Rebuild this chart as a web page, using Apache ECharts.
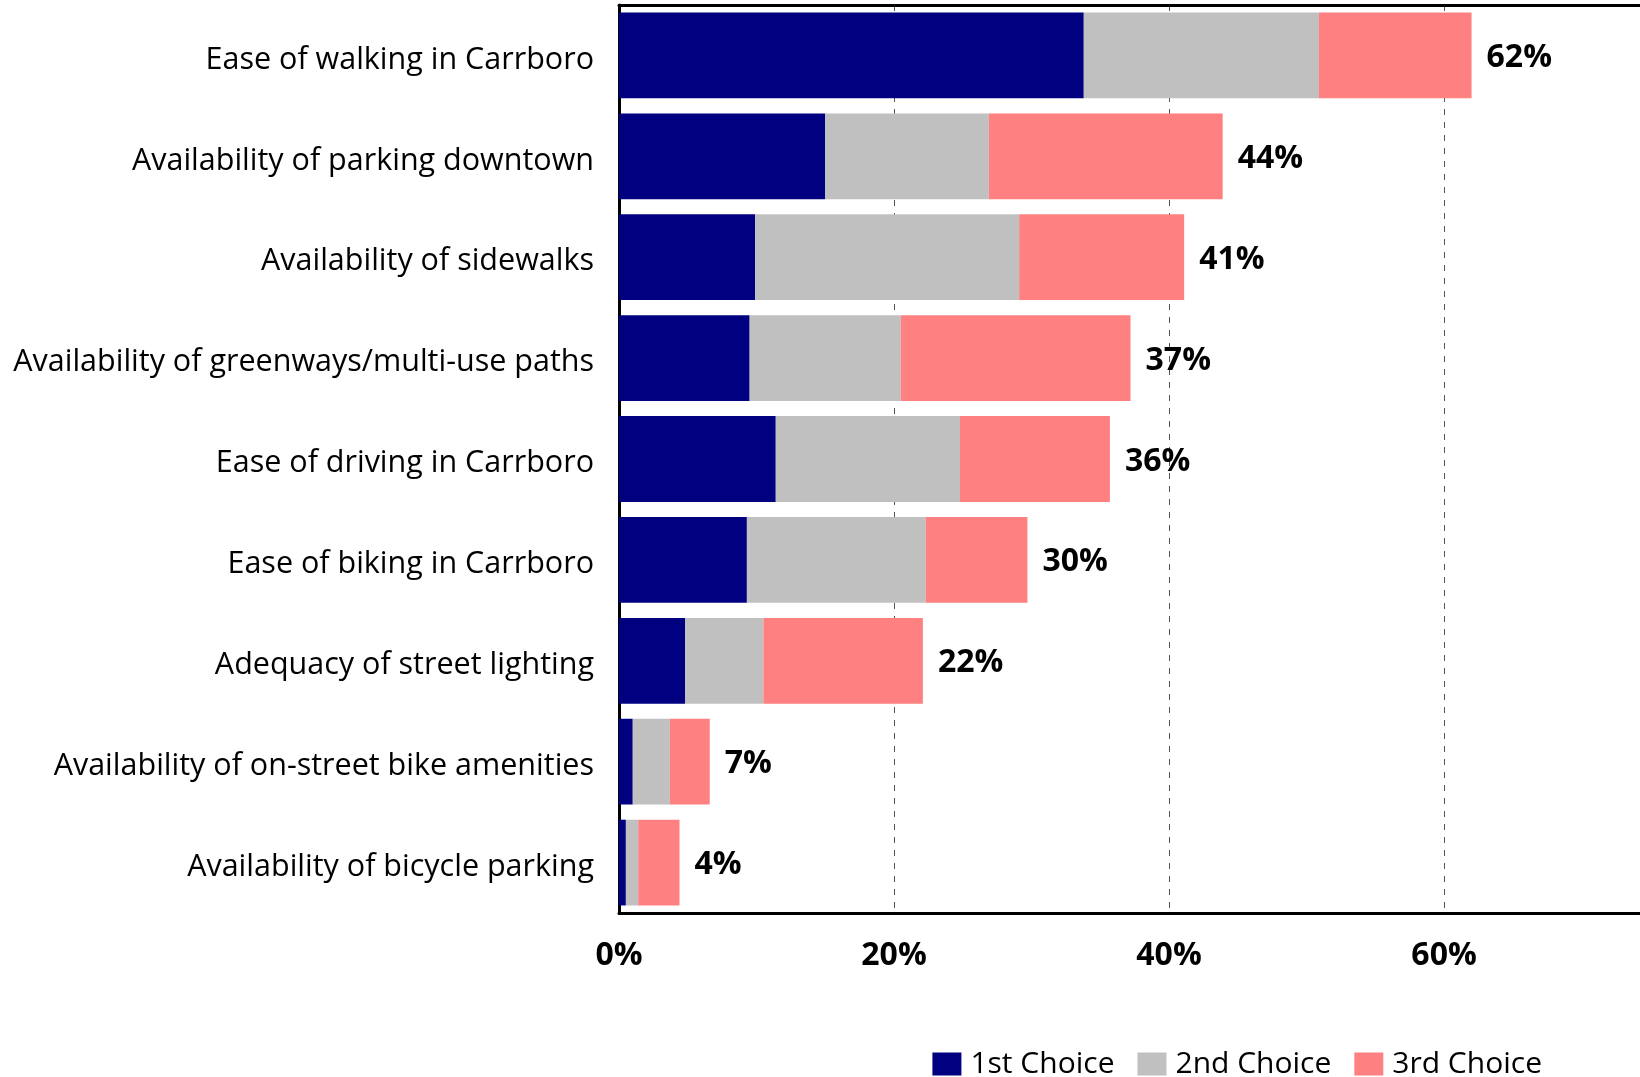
<!DOCTYPE html>
<html>
<head>
<meta charset="utf-8">
<script src="https://cdn.jsdelivr.net/npm/echarts@6/dist/echarts.min.js"></script>
<style>
html,body{margin:0;padding:0;background:#fff;}
#chart{width:1640px;height:1077px;}
</style>
</head>
<body>
<div id="chart"></div>
<script>
const categories = [
  "Ease of walking in Carrboro",
  "Availability of parking downtown",
  "Availability of sidewalks",
  "Availability of greenways/multi-use paths",
  "Ease of driving in Carrboro",
  "Ease of biking in Carrboro",
  "Adequacy of street lighting",
  "Availability of on-street bike amenities",
  "Availability of bicycle parking"
];
const firstChoice  = [33.8, 15.0,  9.9,  9.5, 11.4, 9.3,  4.8, 1.0, 0.5];
const secondChoice = [17.1, 11.9, 19.2, 11.0, 13.4, 13.0, 5.7, 2.7, 0.9];
const thirdChoice  = [11.1, 17.0, 12.0, 16.7, 10.9, 7.4, 11.6, 2.9, 3.0];
const totalLabels  = [62, 44, 41, 37, 36, 30, 22, 7, 4];
const xTicks = [0, 20, 40, 60];
const seriesNames = ["1st Choice", "2nd Choice", "3rd Choice"];
const colors = ["#000080", "#C0C0C0", "#FF8080"];

const chart = echarts.init(document.getElementById('chart'), null, {renderer: 'canvas'});
const FONT = 'Open Sans';
const option = {
  animation: false,
  backgroundColor: '#ffffff',
  grid: {left: 619, top: 5, bottom: 164, right: 0, show: false},
  legend: {
    data: seriesNames,
    right: 93, top: 1044,
    itemWidth: 29, itemHeight: 23, itemGap: 23,
    icon: 'rect',
    textStyle: {fontFamily: FONT, fontSize: 30, color: '#000', padding: [0,0,0,4]}
  },
  xAxis: [{
    type: 'value', min: 0, max: 74.25, interval: 20,
    axisLine: {show: true, lineStyle: {color: '#000', width: 3}},
    axisTick: {show: false},
    splitLine: {show: true, lineStyle: {color: '#555', width: 1, type: [6, 7]}},
    axisLabel: {
      margin: 27, fontFamily: FONT, fontWeight: 'bold', fontSize: 32, color: '#000',
      showMaxLabel: false,
      formatter: v => xTicks.indexOf(v) >= 0 ? v + '%' : ''
    }
  }, {
    type: 'value', position: 'top', min: 0, max: 74.25, interval: 20,
    axisLine: {show: true, lineStyle: {color: '#000', width: 3}},
    axisTick: {show: false}, axisLabel: {show: false}, splitLine: {show: false}
  }],
  yAxis: {
    type: 'category', data: categories, inverse: true,
    axisLine: {show: true, lineStyle: {color: '#000', width: 3}},
    axisTick: {show: false},
    axisLabel: {
      margin: 25, color: '#000',
      formatter: v => '{a|' + v + '}',
      rich: {a: {fontFamily: FONT, fontSize: 30.5, color: '#000', padding: [9, 0, 0, 0]}}
    }
  },
  series: [
    {name: seriesNames[0], type: 'bar', stack: 'all', data: firstChoice, barCategoryGap: '15%',
     itemStyle: {color: colors[0]}},
    {name: seriesNames[1], type: 'bar', stack: 'all', data: secondChoice,
     itemStyle: {color: colors[1]}},
    {name: seriesNames[2], type: 'bar', stack: 'all', data: thirdChoice,
     itemStyle: {color: colors[2]},
     label: {show: true, position: 'right', distance: 15,
       formatter: p => '{b|' + totalLabels[p.dataIndex] + '%}',
       rich: {b: {fontFamily: FONT, fontWeight: 'bold', fontSize: 32, color: '#000', padding: [5, 0, 0, 0]}}}}
  ]
};
chart.setOption(option);
</script>
</body>
</html>
